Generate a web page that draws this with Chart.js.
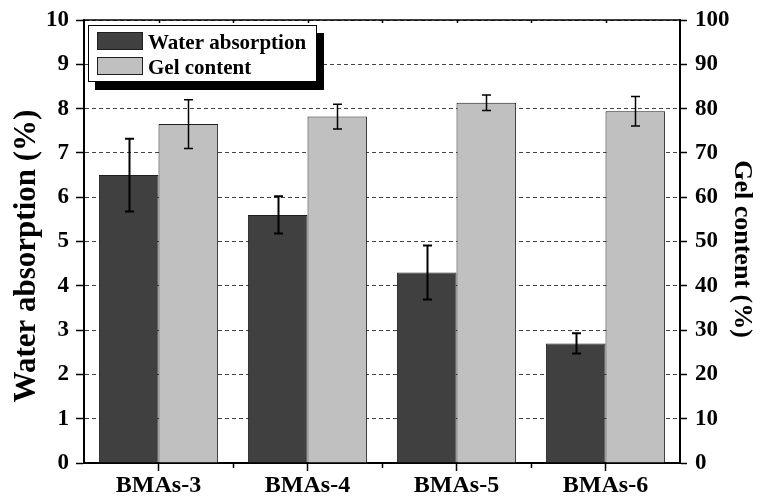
<!DOCTYPE html>
<html>
<head>
<meta charset="utf-8">
<title>Water absorption and gel content of BMAs</title>
<script src="https://cdn.jsdelivr.net/npm/chart.js@4.4.1/dist/chart.umd.min.js"></script>
<style>
  html, body { margin: 0; padding: 0; background: #ffffff; }
  canvas { display: block; }
</style>
</head>
<body>
<canvas id="chart" width="760" height="501"></canvas>
<script>
// Samples on the category axis
const categories = ['BMAs-3', 'BMAs-4', 'BMAs-5', 'BMAs-6'];

// Water absorption (%) with standard deviation, left axis
const waterAbsorption = [6.5, 5.6, 4.3, 2.7];
const waterAbsorptionSd = [0.82, 0.42, 0.61, 0.23];

// Gel content (%) with standard deviation, right axis
const gelContent = [76.5, 78.2, 81.3, 79.4];
const gelContentSd = [5.5, 2.8, 1.75, 3.35];

// Axis ranges
const leftRange = { min: 0, max: 10, step: 1 };
const rightRange = { min: 0, max: 100, step: 10 };

const SERIF = "'Liberation Serif', 'Times New Roman', serif";

// Error bars drawn from the sd arrays on each bar's own axis
const errorBarPlugin = {
  id: 'errorBars',
  afterDatasetsDraw(chart) {
    const ctx = chart.ctx;
    chart.data.datasets.forEach((ds, di) => {
      const meta = chart.getDatasetMeta(di);
      const scale = chart.scales[ds.yAxisID];
      ctx.save();
      ctx.strokeStyle = '#000';
      ctx.lineWidth = ds.errorLineWidth;
      meta.data.forEach((bar, i) => {
        const v = ds.data[i];
        const e = ds.errors[i];
        const yTop = scale.getPixelForValue(v + e);
        const yBot = scale.getPixelForValue(v - e);
        const x = Math.round(bar.x) + 0.5;
        const cap = 4.5;
        ctx.beginPath();
        ctx.moveTo(x, yTop); ctx.lineTo(x, yBot);
        ctx.moveTo(x - cap, yTop); ctx.lineTo(x + cap, yTop);
        ctx.moveTo(x - cap, yBot); ctx.lineTo(x + cap, yBot);
        ctx.stroke();
      });
      ctx.restore();
    });
  }
};

// Top frame line plus minor ticks between categories
const framePlugin = {
  id: 'frame',
  afterDraw(chart) {
    const ctx = chart.ctx;
    const a = chart.chartArea;
    const xs = chart.scales.x;
    const n = categories.length;
    const step = (a.right - a.left) / n;
    ctx.save();
    ctx.strokeStyle = '#000';
    ctx.lineWidth = 1.5;
    ctx.beginPath();
    ctx.moveTo(a.left, a.top);
    ctx.lineTo(a.right, a.top);
    ctx.stroke();
    ctx.beginPath();
    for (let i = 1; i < n; i++) {
      const x = Math.round(a.left + i * step) + 0.5;
      ctx.moveTo(x, a.bottom);
      ctx.lineTo(x, a.bottom + 5);
      ctx.moveTo(x, a.top);
      ctx.lineTo(x, a.top + 3);
    }
    for (let i = 0; i < n; i++) {
      const x = Math.round(xs.getPixelForValue(i)) + 0.5;
      ctx.moveTo(x, a.top);
      ctx.lineTo(x, a.top + 3);
    }
    ctx.stroke();
    ctx.restore();
  }
};

// Axis titles
const axisTitlePlugin = {
  id: 'axisTitles',
  afterDraw(chart) {
    const ctx = chart.ctx;
    ctx.save();
    ctx.fillStyle = '#000';
    ctx.textAlign = 'center';
    ctx.textBaseline = 'alphabetic';

    ctx.save();
    ctx.font = 'bold 31px ' + SERIF;
    ctx.translate(35, 256);
    ctx.rotate(-Math.PI / 2);
    ctx.fillText('Water absorption (%)', 0, 0);
    ctx.restore();

    ctx.save();
    ctx.font = 'bold 26px ' + SERIF;
    ctx.translate(735, 249);
    ctx.rotate(Math.PI / 2);
    ctx.fillText('Gel content (%)', 0, 0);
    ctx.restore();

    ctx.restore();
  }
};

// Boxed legend with a drop shadow, inside the plot area
const boxLegendPlugin = {
  id: 'boxLegend',
  afterDraw(chart) {
    const ctx = chart.ctx;
    const box = { x: 88, y: 25, w: 229, h: 57 };
    ctx.save();
    ctx.fillStyle = '#000';
    ctx.fillRect(box.x + 7, box.y + 8, box.w, box.h);
    ctx.fillStyle = '#fff';
    ctx.fillRect(box.x, box.y, box.w, box.h);
    ctx.strokeStyle = '#000';
    ctx.lineWidth = 1;
    ctx.strokeRect(box.x + 0.5, box.y + 0.5, box.w - 1, box.h - 1);

    ctx.font = 'bold 21px ' + SERIF;
    ctx.textAlign = 'left';
    ctx.textBaseline = 'alphabetic';
    chart.data.datasets.forEach((ds, i) => {
      const sy = 32 + i * 25;
      ctx.fillStyle = ds.backgroundColor;
      ctx.fillRect(97, sy, 46, 18);
      ctx.strokeStyle = '#1e1e1e';
      ctx.strokeRect(97.5, sy + 0.5, 45, 17);
      ctx.fillStyle = '#000';
      ctx.fillText(ds.label, 148, sy + 17);
    });
    ctx.restore();
  }
};

const tickFont = { family: SERIF, size: 23, weight: 'bold' };

new Chart(document.getElementById('chart'), {
  type: 'bar',
  data: {
    labels: categories,
    datasets: [
      {
        label: 'Water absorption',
        data: waterAbsorption,
        errors: waterAbsorptionSd,
        errorLineWidth: 2,
        yAxisID: 'y',
        backgroundColor: '#404040',
        borderColor: '#1e1e1e',
        borderWidth: 1,
        categoryPercentage: 0.8,
        barPercentage: 1.0
      },
      {
        label: 'Gel content',
        data: gelContent,
        errors: gelContentSd,
        errorLineWidth: 1.5,
        yAxisID: 'y1',
        backgroundColor: '#c0c0c0',
        borderColor: '#1e1e1e',
        borderWidth: 1,
        categoryPercentage: 0.8,
        barPercentage: 1.0
      }
    ]
  },
  options: {
    responsive: false,
    animation: false,
    devicePixelRatio: 1,
    layout: { padding: { top: 20, left: 0, right: 0, bottom: 0 } },
    plugins: {
      legend: { display: false },
      tooltip: { enabled: false }
    },
    scales: {
      x: {
        type: 'category',
        offset: true,
        grid: {
          offset: false,
          drawOnChartArea: false,
          tickLength: 8,
          tickWidth: 1.5,
          tickColor: '#000'
        },
        border: { color: '#000', width: 2 },
        ticks: { font: { family: SERIF, size: 24, weight: 'bold' }, color: '#000', padding: 0, maxRotation: 0 },
        afterFit(s) { s.height = 38; }
      },
      y: {
        position: 'left',
        min: leftRange.min,
        max: leftRange.max,
        ticks: { stepSize: leftRange.step, font: tickFont, color: '#000', padding: 7 },
        grid: {
          color: '#444',
          lineWidth: 1,
          tickLength: 8,
          tickWidth: 1.5,
          tickColor: '#000',
          tickBorderDash: []
        },
        border: { color: '#000', width: 2, dash: [4, 3] },
        afterFit(s) { s.width = 84; s.paddingTop = 0; s.paddingBottom = 0; }
      },
      y1: {
        position: 'right',
        min: rightRange.min,
        max: rightRange.max,
        ticks: { stepSize: rightRange.step, font: tickFont, color: '#000', padding: 8 },
        grid: {
          drawOnChartArea: false,
          tickLength: 7,
          tickWidth: 1.5,
          tickColor: '#000'
        },
        border: { color: '#000', width: 2 },
        afterFit(s) { s.width = 80; s.paddingTop = 0; s.paddingBottom = 0; }
      }
    }
  },
  plugins: [errorBarPlugin, framePlugin, axisTitlePlugin, boxLegendPlugin]
});
</script>
</body>
</html>
